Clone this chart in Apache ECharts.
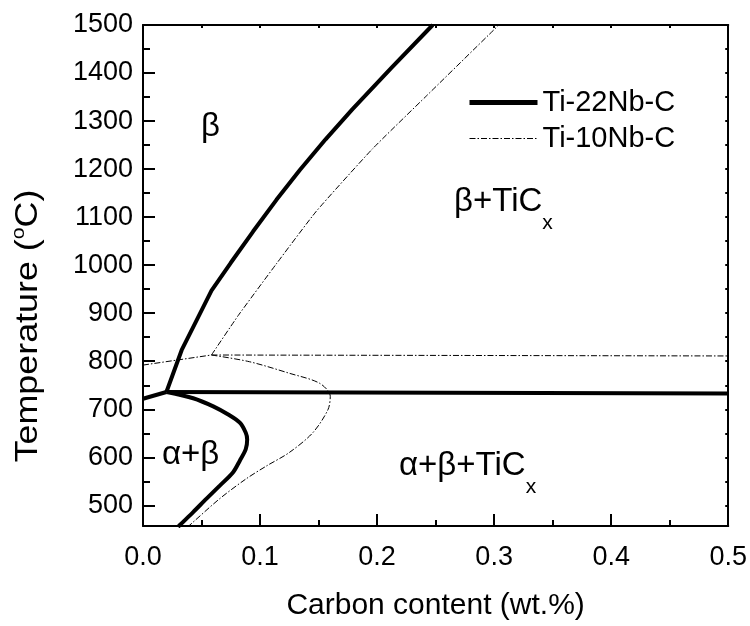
<!DOCTYPE html>
<html>
<head>
<meta charset="utf-8">
<script src="https://cdn.jsdelivr.net/npm/echarts@6/dist/echarts.min.js"></script>
<style>
    html, body { margin: 0; padding: 0; background: #fff; }
    #chart { width: 750px; height: 626px; }
</style>
</head>
<body>
<div id="chart"></div>
<script>
// 刻度
const xMin = 0, xMax = 0.5
const yMin = 457, yMax = 1500
const yMajorTicks = [500, 600, 700, 800, 900, 1000, 1100, 1200, 1300, 1400, 1500]
const yMinorTicks = [550, 650, 750, 850, 950, 1050, 1150, 1250, 1350, 1450]
const yAllTicks = [500, 550, 600, 650, 700, 750, 800, 850, 900, 950, 1000, 1050, 1100, 1150, 1200, 1250, 1300, 1350, 1400, 1450, 1500]

// Ti-22Nb-C (粗实线)
const ti22Left = [[0, 722], [0.020, 736]]
const ti22Beta = [[0.020, 736], [0.033, 823], [0.0478, 895], [0.0585, 947], [0.075, 1005], [0.094, 1070], [0.114, 1136], [0.134, 1198], [0.156, 1262], [0.179, 1325], [0.212, 1410], [0.2475, 1500]]
const ti22Eutectoid = [[0.020, 736], [0.5, 733]]
const ti22AlphaBeta = [[0.0202, 736], [0.0429, 723], [0.060, 706], [0.0728, 689], [0.0827, 672], [0.0878, 651], [0.089, 637], [0.0878, 617], [0.0827, 593], [0.077, 569], [0.0656, 541], [0.0543, 514], [0.0429, 486], [0.0315, 459], [0.030, 455]]

// Ti-10Nb-C (点划线)
const ti10Left = [[0, 792], [0.0585, 813]]
const ti10Beta = [[0.0585, 813], [0.0813, 895], [0.1137, 1002], [0.148, 1112], [0.196, 1242], [0.242, 1352], [0.304, 1500]]
const ti10Eutectoid = [[0.0585, 813], [0.5, 811]]
const ti10Loop = [[0.0585, 813], [0.091, 799], [0.125, 775], [0.151, 754], [0.160, 727], [0.158, 699], [0.145, 651], [0.125, 610], [0.1055, 582], [0.088, 555], [0.0656, 514], [0.040, 459], [0.038, 455]]

const FONT = '"Liberation Sans", Arial, sans-serif'
const THIN_DASH = [6, 2, 1.5, 2]

const chart = echarts.init(document.getElementById('chart'), null, { renderer: 'canvas' })

// 粗线 / 点划线的公共样式
function thick(data, smooth) {
    return {
        name: 'Ti-22Nb-C', type: 'line', data: data, symbol: 'none', showSymbol: false, smooth: smooth || false,
        lineStyle: { color: '#000', width: 4 }, itemStyle: { color: '#000' }, z: 3
    }
}
function thin(data, smooth) {
    return {
        name: 'Ti-10Nb-C', type: 'line', data: data, symbol: 'none', showSymbol: false, smooth: smooth || false,
        lineStyle: { color: '#000', width: 1, type: THIN_DASH }, itemStyle: { color: '#000' }, z: 2
    }
}

const axisLine = { show: true, onZero: false, lineStyle: { color: '#000', width: 2 } }

// 带下标的区域文字
function regionLabel(x, y, main, sub) {
    return {
        type: 'text', x: x, y: y,
        style: {
            text: sub ? '{m|' + main + '}{s|' + sub + '}' : '{m|' + main + '}',
            verticalAlign: 'middle',
            rich: {
                m: { fontFamily: FONT, fontSize: 33, fill: '#000', lineHeight: 34, verticalAlign: 'middle' },
                s: { fontFamily: FONT, fontSize: 21, fill: '#000', lineHeight: 64, verticalAlign: 'bottom' }
            }
        }
    }
}

let option = {
    animation: false,
    backgroundColor: '#fff',
    grid: { left: 143, right: 20, top: 25, bottom: 95 },
    legend: {
        orient: 'vertical', left: 462, top: 83,
        itemWidth: 68, itemHeight: 14, itemGap: 7,
        itemStyle: { opacity: 0 },
        data: [
            { name: 'Ti-22Nb-C', lineStyle: { width: 5, color: '#000' } },
            { name: 'Ti-10Nb-C', lineStyle: { width: 1, color: '#000', type: THIN_DASH } }
        ],
        textStyle: { fontFamily: FONT, fontSize: 29, lineHeight: 28, color: '#000' },
        selectedMode: false
    },
    xAxis: [
        {
            type: 'value', min: xMin, max: xMax, interval: 0.1, position: 'bottom',
            axisLine: axisLine,
            axisTick: { inside: true, length: 12, lineStyle: { color: '#000', width: 2 } },
            minorTick: { show: true, splitNumber: 2, length: 6, lineStyle: { color: '#000', width: 2 } },
            axisLabel: { margin: 18, fontFamily: FONT, fontSize: 27, color: '#000', formatter: v => v.toFixed(1) },
            splitLine: { show: false },
            name: 'Carbon content (wt.%)', nameLocation: 'middle', nameGap: 65,
            nameTextStyle: { fontFamily: FONT, fontSize: 30, color: '#000' }
        },
        {
            type: 'value', min: xMin, max: xMax, interval: 0.05, position: 'top',
            axisLine: axisLine,
            axisTick: { inside: true, length: 3, lineStyle: { color: '#000', width: 2 } },
            axisLabel: { show: false }, splitLine: { show: false }
        }
    ],
    yAxis: [
        {
            type: 'value', min: yMin, max: yMax, position: 'left',
            axisLine: axisLine,
            axisTick: { inside: true, length: 12, customValues: yMajorTicks, lineStyle: { color: '#000', width: 2 } },
            axisLabel: { margin: 10, customValues: yMajorTicks, fontFamily: FONT, fontSize: 27, color: '#000', formatter: v => String(v) },
            splitLine: { show: false }
        },
        {
            type: 'value', min: yMin, max: yMax, position: 'left', offset: 0,
            axisLine: { show: false },
            axisTick: { inside: true, length: 7, customValues: yMinorTicks, lineStyle: { color: '#000', width: 2 } },
            axisLabel: { show: false, customValues: yMinorTicks }, splitLine: { show: false }
        },
        {
            type: 'value', min: yMin, max: yMax, position: 'right',
            axisLine: axisLine,
            axisTick: { inside: true, length: 3, customValues: yAllTicks, lineStyle: { color: '#000', width: 2 } },
            axisLabel: { show: false, customValues: yAllTicks }, splitLine: { show: false }
        }
    ],
    graphic: [
        {
            type: 'text', x: 28, y: 326, rotation: Math.PI / 2, scaleX: 1.12,
            style: {
                text: '{n|Temperature (}{s|o}{n|C)}', align: 'center', verticalAlign: 'middle',
                rich: {
                    n: { fontFamily: FONT, fontSize: 32, fill: '#000' },
                    s: { fontFamily: FONT, fontSize: 19, fill: '#000', padding: [0, 0, 18, 0] }
                }
            }
        },
        regionLabel(201, 127, 'β'),
        regionLabel(454, 202, 'β+TiC', 'x'),
        regionLabel(162, 455, 'α+β'),
        regionLabel(399, 466, 'α+β+TiC', 'x')
    ],
    series: [
        thick(ti22Left),
        thick(ti22Beta),
        thick(ti22Eutectoid),
        thick(ti22AlphaBeta, 0.3),
        thin(ti10Left),
        thin(ti10Beta, 0.15),
        thin(ti10Eutectoid),
        thin(ti10Loop, 0.3)
    ]
}

chart.setOption(option)
</script>
</body>
</html>
